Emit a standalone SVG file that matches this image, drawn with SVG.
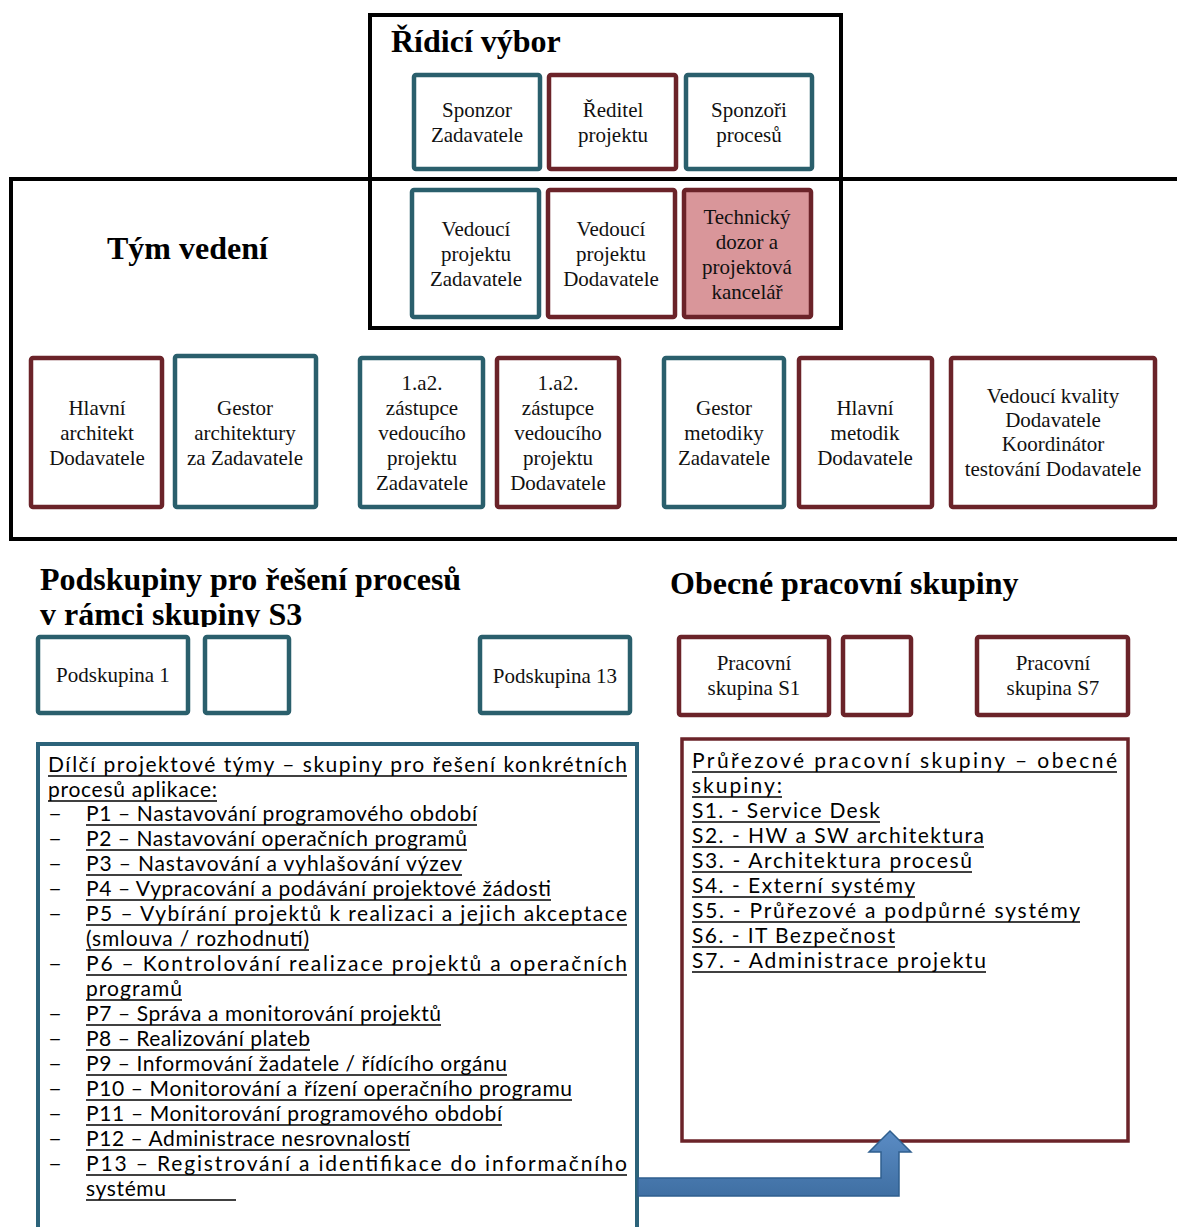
<svg xmlns="http://www.w3.org/2000/svg" width="1177" height="1227" viewBox="0 0 1177 1227">
  <style>
    .frame { fill: none; stroke: #000; stroke-width: 4; }
    .teal { fill: #fff; stroke: #2a5f6c; stroke-width: 4.5; }
    .maroon { fill: #fff; stroke: #6b2329; stroke-width: 4.5; }
    .pink { fill: #d9969a; stroke: #6b2329; stroke-width: 4.5; }
    .lbl { font-family: "Liberation Serif", "Times New Roman", serif; font-size: 21px; fill: #111; text-anchor: middle; }
    .head { font-family: "Liberation Serif", "Times New Roman", serif; font-size: 32px; font-weight: bold; fill: #000; }
    .list { font-family: Lato, "Liberation Sans", sans-serif; font-size: 21px; fill: #000; }
    .ul { stroke: #000; stroke-width: 1.7; }
  </style>
  <defs>
    <linearGradient id="arrowFill" x1="0" y1="0" x2="0" y2="1">
      <stop offset="0" stop-color="#5b8cc4"/>
      <stop offset="1" stop-color="#3f6fa3"/>
    </linearGradient>
    <clipPath id="headClip">
      <rect x="0" y="560" width="640" height="67"/>
    </clipPath>
  </defs>

  <rect width="1177" height="1227" fill="#fff"/>

  <!-- outer frames -->
  <g id="frame-tym-vedeni">
    <path class="frame" d="M1180,179 H11 V539 H1180"/>
    <text class="head" x="107" y="259">Tým vedení</text>
  </g>
  <g id="frame-ridici-vybor">
    <rect class="frame" x="370" y="15" width="471" height="313"/>
    <text class="head" x="391" y="52">Řídicí výbor</text>
  </g>

  <!-- steering committee row -->
  <g id="sponzor-zadavatele">
    <rect class="teal" x="414" y="75" width="126" height="94" rx="2"/>
    <text class="lbl" x="477" y="117">Sponzor</text>
    <text class="lbl" x="477" y="142">Zadavatele</text>
  </g>
  <g id="reditel-projektu">
    <rect class="maroon" x="549" y="75" width="127" height="94" rx="2"/>
    <text class="lbl" x="613" y="117">Ředitel</text>
    <text class="lbl" x="613" y="142">projektu</text>
  </g>
  <g id="sponzori-procesu">
    <rect class="teal" x="686" y="75" width="126" height="94" rx="2"/>
    <text class="lbl" x="749" y="117">Sponzoři</text>
    <text class="lbl" x="749" y="142">procesů</text>
  </g>

  <!-- leadership row -->
  <g id="vedouci-zadavatele">
    <rect class="teal" x="412" y="190" width="127" height="127" rx="2"/>
    <text class="lbl" x="476" y="236">Vedoucí</text>
    <text class="lbl" x="476" y="261">projektu</text>
    <text class="lbl" x="476" y="286">Zadavatele</text>
  </g>
  <g id="vedouci-dodavatele">
    <rect class="maroon" x="548" y="190" width="127" height="127" rx="2"/>
    <text class="lbl" x="611" y="236">Vedoucí</text>
    <text class="lbl" x="611" y="261">projektu</text>
    <text class="lbl" x="611" y="286">Dodavatele</text>
  </g>
  <g id="technicky-dozor">
    <rect class="pink" x="684" y="190" width="127" height="127" rx="2"/>
    <text class="lbl" x="747" y="224">Technický</text>
    <text class="lbl" x="747" y="249">dozor a</text>
    <text class="lbl" x="747" y="274">projektová</text>
    <text class="lbl" x="747" y="299">kancelář</text>
  </g>

  <!-- team row -->
  <g id="hlavni-architekt">
    <rect class="maroon" x="31" y="358" width="131" height="149" rx="2"/>
    <text class="lbl" x="97" y="415">Hlavní</text>
    <text class="lbl" x="97" y="440">architekt</text>
    <text class="lbl" x="97" y="465">Dodavatele</text>
  </g>
  <g id="gestor-architektury">
    <rect class="teal" x="175" y="356" width="141" height="151" rx="2"/>
    <text class="lbl" x="245" y="415">Gestor</text>
    <text class="lbl" x="245" y="440">architektury</text>
    <text class="lbl" x="245" y="465">za Zadavatele</text>
  </g>
  <g id="zastupce-zadavatele">
    <rect class="teal" x="360" y="358" width="123" height="149" rx="2"/>
    <text class="lbl" x="422" y="390">1.a2.</text>
    <text class="lbl" x="422" y="415">zástupce</text>
    <text class="lbl" x="422" y="440">vedoucího</text>
    <text class="lbl" x="422" y="465">projektu</text>
    <text class="lbl" x="422" y="490">Zadavatele</text>
  </g>
  <g id="zastupce-dodavatele">
    <rect class="maroon" x="497" y="358" width="122" height="149" rx="2"/>
    <text class="lbl" x="558" y="390">1.a2.</text>
    <text class="lbl" x="558" y="415">zástupce</text>
    <text class="lbl" x="558" y="440">vedoucího</text>
    <text class="lbl" x="558" y="465">projektu</text>
    <text class="lbl" x="558" y="490">Dodavatele</text>
  </g>
  <g id="gestor-metodiky">
    <rect class="teal" x="664" y="358" width="120" height="149" rx="2"/>
    <text class="lbl" x="724" y="415">Gestor</text>
    <text class="lbl" x="724" y="440">metodiky</text>
    <text class="lbl" x="724" y="465">Zadavatele</text>
  </g>
  <g id="hlavni-metodik">
    <rect class="maroon" x="799" y="358" width="133" height="149" rx="2"/>
    <text class="lbl" x="865" y="415">Hlavní</text>
    <text class="lbl" x="865" y="440">metodik</text>
    <text class="lbl" x="865" y="465">Dodavatele</text>
  </g>
  <g id="vedouci-kvality">
    <rect class="maroon" x="951" y="358" width="204" height="149" rx="2"/>
    <text class="lbl" x="1053" y="403">Vedoucí kvality</text>
    <text class="lbl" x="1053" y="427">Dodavatele</text>
    <text class="lbl" x="1053" y="451">Koordinátor</text>
    <text class="lbl" x="1053" y="476">testování Dodavatele</text>
  </g>

  <!-- section headings -->
  <g id="heading-podskupiny">
    <text class="head" x="40" y="590">Podskupiny pro řešení procesů</text>
    <text class="head" x="40" y="625" clip-path="url(#headClip)">v rámci skupiny S3</text>
  </g>
  <g id="heading-obecne">
    <text class="head" x="670" y="594">Obecné pracovní skupiny</text>
  </g>

  <!-- subgroups -->
  <g id="podskupina-1">
    <rect class="teal" x="38" y="637" width="150" height="76" rx="2"/>
    <text class="lbl" x="113" y="682">Podskupina 1</text>
  </g>
  <g id="podskupina-dalsi">
    <rect class="teal" x="205" y="637" width="84" height="76" rx="2"/>
  </g>
  <g id="podskupina-13">
    <rect class="teal" x="480" y="637" width="150" height="76" rx="2"/>
    <text class="lbl" x="555" y="683">Podskupina 13</text>
  </g>

  <!-- working groups -->
  <g id="skupina-s1">
    <rect class="maroon" x="679" y="637" width="150" height="78" rx="2"/>
    <text class="lbl" x="754" y="670">Pracovní</text>
    <text class="lbl" x="754" y="695">skupina S1</text>
  </g>
  <g id="skupina-dalsi">
    <rect class="maroon" x="843" y="637" width="68" height="78" rx="2"/>
  </g>
  <g id="skupina-s7">
    <rect class="maroon" x="977" y="637" width="151" height="78" rx="2"/>
    <text class="lbl" x="1053" y="670">Pracovní</text>
    <text class="lbl" x="1053" y="695">skupina S7</text>
  </g>

  <!-- process teams list -->
  <g id="dilci-tymy">
    <path d="M38,1230 V744 H637 V1230" fill="#fff" stroke="#2c637a" stroke-width="4"/>
    <g class="list">
      <text x="48" y="772" textLength="579" lengthAdjust="spacing">Dílčí projektové týmy – skupiny pro řešení konkrétních</text>
      <text x="48" y="797" textLength="169" lengthAdjust="spacing">procesů aplikace:</text>
      <text x="48" y="821" textLength="14" lengthAdjust="spacingAndGlyphs">–</text>
      <text x="48" y="846" textLength="14" lengthAdjust="spacingAndGlyphs">–</text>
      <text x="48" y="871" textLength="14" lengthAdjust="spacingAndGlyphs">–</text>
      <text x="48" y="896" textLength="14" lengthAdjust="spacingAndGlyphs">–</text>
      <text x="48" y="921" textLength="14" lengthAdjust="spacingAndGlyphs">–</text>
      <text x="48" y="971" textLength="14" lengthAdjust="spacingAndGlyphs">–</text>
      <text x="48" y="1021" textLength="14" lengthAdjust="spacingAndGlyphs">–</text>
      <text x="48" y="1046" textLength="14" lengthAdjust="spacingAndGlyphs">–</text>
      <text x="48" y="1071" textLength="14" lengthAdjust="spacingAndGlyphs">–</text>
      <text x="48" y="1096" textLength="14" lengthAdjust="spacingAndGlyphs">–</text>
      <text x="48" y="1121" textLength="14" lengthAdjust="spacingAndGlyphs">–</text>
      <text x="48" y="1146" textLength="14" lengthAdjust="spacingAndGlyphs">–</text>
      <text x="48" y="1171" textLength="14" lengthAdjust="spacingAndGlyphs">–</text>
      <text x="86" y="821" textLength="391" lengthAdjust="spacing">P1 – Nastavování programového období</text>
      <text x="86" y="846" textLength="381" lengthAdjust="spacing">P2 – Nastavování operačních programů</text>
      <text x="86" y="871" textLength="376" lengthAdjust="spacing">P3 – Nastavování a vyhlašování výzev</text>
      <text x="86" y="896" textLength="465" lengthAdjust="spacing">P4 – Vypracování a podávání projektové žádosti</text>
      <text x="86" y="921" textLength="541" lengthAdjust="spacing">P5 – Vybírání projektů k realizaci a jejich akceptace</text>
      <text x="86" y="946" textLength="223" lengthAdjust="spacing">(smlouva / rozhodnutí)</text>
      <text x="86" y="971" textLength="541" lengthAdjust="spacing">P6 – Kontrolování realizace projektů a operačních</text>
      <text x="86" y="996" textLength="96" lengthAdjust="spacing">programů</text>
      <text x="86" y="1021" textLength="355" lengthAdjust="spacing">P7 – Správa a monitorování projektů</text>
      <text x="86" y="1046" textLength="224" lengthAdjust="spacing">P8 – Realizování plateb</text>
      <text x="86" y="1071" textLength="421" lengthAdjust="spacing">P9 – Informování žadatele / řídícího orgánu</text>
      <text x="86" y="1096" textLength="486" lengthAdjust="spacing">P10 – Monitorování a řízení operačního programu</text>
      <text x="86" y="1121" textLength="416" lengthAdjust="spacing">P11 – Monitorování programového období</text>
      <text x="86" y="1146" textLength="324" lengthAdjust="spacing">P12 – Administrace nesrovnalostí</text>
      <text x="86" y="1171" textLength="541" lengthAdjust="spacing">P13 – Registrování a identifikace do informačního</text>
      <text x="86" y="1196" textLength="80" lengthAdjust="spacing">systému</text>
    </g>
    <!-- underlines -->
    <g class="ul">
      <line x1="48" y1="776" x2="627" y2="776"/>
      <line x1="48" y1="801" x2="217" y2="801"/>
      <line x1="86" y1="825" x2="477" y2="825"/>
      <line x1="86" y1="850" x2="467" y2="850"/>
      <line x1="86" y1="875" x2="462" y2="875"/>
      <line x1="86" y1="900" x2="551" y2="900"/>
      <line x1="86" y1="925" x2="627" y2="925"/>
      <line x1="86" y1="950" x2="309" y2="950"/>
      <line x1="86" y1="975" x2="627" y2="975"/>
      <line x1="86" y1="1000" x2="182" y2="1000"/>
      <line x1="86" y1="1025" x2="441" y2="1025"/>
      <line x1="86" y1="1050" x2="310" y2="1050"/>
      <line x1="86" y1="1075" x2="507" y2="1075"/>
      <line x1="86" y1="1100" x2="572" y2="1100"/>
      <line x1="86" y1="1125" x2="502" y2="1125"/>
      <line x1="86" y1="1150" x2="410" y2="1150"/>
      <line x1="86" y1="1175" x2="627" y2="1175"/>
      <line x1="86" y1="1200" x2="236" y2="1200"/>
    </g>
  </g>

  <!-- cross-cutting groups list -->
  <g id="prurezove-skupiny">
    <rect x="682" y="739" width="446" height="402" fill="#fff" stroke="#6b2329" stroke-width="3.5"/>
    <g class="list">
      <text x="692" y="768" textLength="425" lengthAdjust="spacing">Průřezové pracovní skupiny – obecné</text>
      <text x="692" y="793" textLength="90" lengthAdjust="spacing">skupiny:</text>
      <text x="692" y="818" textLength="188" lengthAdjust="spacing">S1. - Service Desk</text>
      <text x="692" y="843" textLength="292" lengthAdjust="spacing">S2. - HW a SW architektura</text>
      <text x="692" y="868" textLength="280" lengthAdjust="spacing">S3. - Architektura procesů</text>
      <text x="692" y="893" textLength="223" lengthAdjust="spacing">S4. - Externí systémy</text>
      <text x="692" y="918" textLength="388" lengthAdjust="spacing">S5. - Průřezové a podpůrné systémy</text>
      <text x="692" y="943" textLength="203" lengthAdjust="spacing">S6. - IT Bezpečnost</text>
      <text x="692" y="968" textLength="294" lengthAdjust="spacing">S7. - Administrace projektu</text>
    </g>
    <g class="ul">
      <line x1="692" y1="772" x2="1117" y2="772"/>
      <line x1="692" y1="797" x2="782" y2="797"/>
      <line x1="692" y1="822" x2="880" y2="822"/>
      <line x1="692" y1="847" x2="984" y2="847"/>
      <line x1="692" y1="872" x2="972" y2="872"/>
      <line x1="692" y1="897" x2="915" y2="897"/>
      <line x1="692" y1="922" x2="1080" y2="922"/>
      <line x1="692" y1="947" x2="895" y2="947"/>
      <line x1="692" y1="972" x2="986" y2="972"/>
    </g>
  </g>

  <!-- connector -->
  <g id="connectors">
    <path d="M638,1178 H881 V1152 H869 L890,1131 L911,1152 H899 V1196 H638 Z" fill="url(#arrowFill)" stroke="#2f5f8e" stroke-width="1.5"/>
  </g>
</svg>
